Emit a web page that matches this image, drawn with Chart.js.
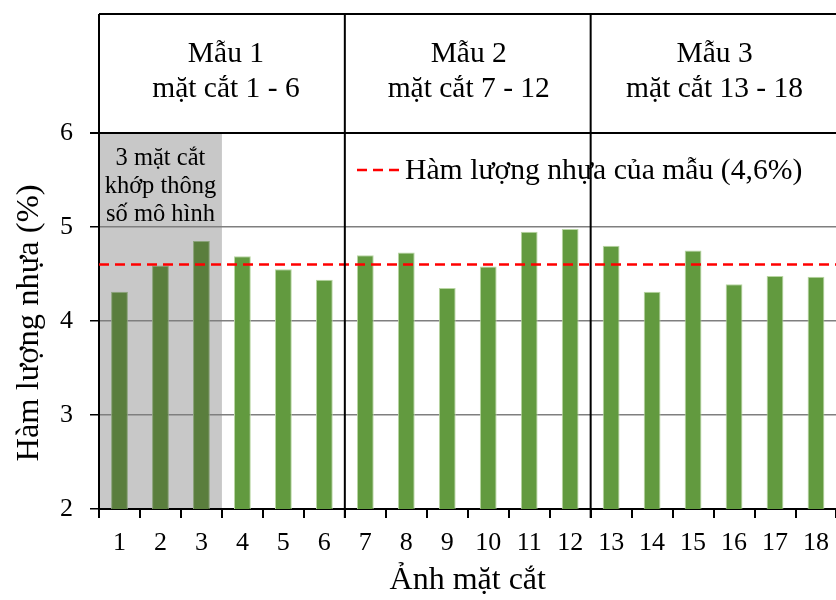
<!DOCTYPE html>
<html>
<head>
<meta charset="utf-8">
<script src="https://cdn.jsdelivr.net/npm/chart.js@4"></script>
<style>
  html, body { margin: 0; padding: 0; background: #fff; overflow: hidden; }
  #wrap { width: 836px; height: 600px; overflow: hidden; }
</style>
</head>
<body>
<div id="wrap"><canvas id="chart" width="839" height="600"></canvas></div>
<script>
// dữ liệu
const labels = ['1','2','3','4','5','6','7','8','9','10','11','12','13','14','15','16','17','18'];
const values = [4.31, 4.59, 4.85, 4.69, 4.55, 4.44, 4.70, 4.73, 4.35, 4.58, 4.95, 4.98, 4.80, 4.31, 4.75, 4.39, 4.48, 4.47];
const fitted = [0, 1, 2];              // 3 mặt cắt khớp thông số mô hình
const groups = ['Mẫu 1', 'Mẫu 2', 'Mẫu 3'];
const groupRanges = ['mặt cắt 1 - 6', 'mặt cắt 7 - 12', 'mặt cắt 13 - 18'];
const yTicks = [2, 3, 4, 5, 6];
const refValue = 4.6;
const refLabel = 'Hàm lượng nhựa của mẫu (4,6%)';
const boxLines = ['3 mặt cắt', 'khớp thông', 'số mô hình'];

const FONT = '"Liberation Serif", "Times New Roman", serif';
const GREEN = '#629a3f';
const GREEN_DARK = '#5a7e3d';

const overlay = {
  id: 'overlay',
  beforeDraw(chart) {
    const { ctx, chartArea: a, scales: { x } } = chart;
    // vùng xám cho 3 mặt cắt đầu
    const right = (x.getPixelForValue(fitted.length - 1) + x.getPixelForValue(fitted.length)) / 2;
    ctx.save();
    ctx.fillStyle = '#c8c8c8';
    ctx.fillRect(a.left, a.top, right - a.left, a.bottom - a.top);
    ctx.restore();
  },
  afterDatasetsDraw(chart) {
    const { ctx, chartArea: a, scales: { y } } = chart;
    const yy = y.getPixelForValue(refValue);
    ctx.save();
    ctx.strokeStyle = '#ff0000';
    ctx.lineWidth = 2.5;
    ctx.setLineDash([10, 6]);
    ctx.beginPath();
    ctx.moveTo(a.left, yy);
    ctx.lineTo(a.right, yy);
    ctx.stroke();
    ctx.restore();
  },
  afterDraw(chart) {
    const { ctx, chartArea: a, scales: { x } } = chart;
    const top = 14;
    const step = x.getPixelForValue(1) - x.getPixelForValue(0);
    ctx.save();

    // chữ trong vùng xám
    ctx.fillStyle = '#000';
    ctx.font = '24.5px ' + FONT;
    ctx.textAlign = 'center';
    ctx.textBaseline = 'middle';
    const boxMid = a.left + step * fitted.length / 2;
    boxLines.forEach((t, i) => ctx.fillText(t, boxMid, 159 + i * 28));

    // chú thích đường đỏ
    ctx.strokeStyle = '#ff0000';
    ctx.lineWidth = 2.5;
    ctx.setLineDash([10, 6]);
    ctx.beginPath();
    ctx.moveTo(357, 170);
    ctx.lineTo(402, 170);
    ctx.stroke();
    ctx.setLineDash([]);
    ctx.fillStyle = '#000';
    ctx.font = '29.7px ' + FONT;
    ctx.textAlign = 'left';
    ctx.fillText(refLabel, 405, 171);

    // khung tiêu đề trên
    ctx.strokeStyle = '#000';
    ctx.lineWidth = 2;
    ctx.beginPath();
    ctx.moveTo(a.left, top);
    ctx.lineTo(a.right, top);
    ctx.moveTo(a.left, top);
    ctx.lineTo(a.left, a.top);
    for (let g = 1; g < groups.length; g++) {
      const bx = a.left + step * g * 6;
      ctx.moveTo(bx, top);
      ctx.lineTo(bx, a.bottom + 9);
    }
    ctx.stroke();

    ctx.textAlign = 'center';
    ctx.font = '29.5px ' + FONT;
    groups.forEach((g, i) => {
      const cx = a.left + step * (i * 6 + 3) + (i === 0 ? 4 : 1);
      ctx.fillText(g, cx, 54);
      ctx.fillText(groupRanges[i], cx, 89);
    });

    // tiêu đề trục y
    ctx.translate(29, (a.top + a.bottom) / 2 + 2);
    ctx.rotate(-Math.PI / 2);
    ctx.font = '32.5px ' + FONT;
    ctx.fillText('Hàm lượng nhựa (%)', 0, 0);
    ctx.restore();
  }
};

new Chart(document.getElementById('chart'), {
  type: 'bar',
  data: {
    labels: labels,
    datasets: [{
      data: values,
      backgroundColor: values.map((v, i) => fitted.includes(i) ? GREEN_DARK : GREEN),
      borderColor: values.map((v, i) => fitted.includes(i) ? '#8aa279' : '#b9d6a3'),
      borderWidth: 1,
      borderSkipped: 'bottom',
      barPercentage: 0.41,
      categoryPercentage: 1
    }]
  },
  options: {
    responsive: false,
    animation: false,
    layout: { padding: { top: 133, right: 0, left: 0, bottom: 0 } },
    plugins: { legend: { display: false }, tooltip: { enabled: false } },
    scales: {
      x: {
        grid: { drawOnChartArea: false, tickLength: 9, tickColor: '#000', lineWidth: 2, offset: true },
        border: { color: '#000', width: 2 },
        ticks: { color: '#000', font: { family: FONT, size: 26 }, padding: 10, maxRotation: 0, autoSkip: false },
        title: { display: true, text: 'Ảnh mặt cắt', color: '#000', font: { family: FONT, size: 32 }, padding: { top: 0, bottom: 0 } },
        afterFit(scale) { scale.height = 600 - 509; }
      },
      y: {
        min: yTicks[0],
        max: yTicks[yTicks.length - 1],
        afterBuildTicks(scale) { scale.ticks = yTicks.map(v => ({ value: v })); },
        grid: {
          color: c => c.tick && c.tick.value === 6 ? '#000' : '#7f7f7f',
          lineWidth: c => c.tick && c.tick.value === 6 ? 2 : 1.5,
          tickColor: '#000',
          tickLength: 9
        },
        border: { color: '#000', width: 2 },
        ticks: { color: '#000', font: { family: FONT, size: 26 }, padding: 17 },
        afterFit(scale) { scale.width = 99; }
      }
    }
  },
  plugins: [overlay]
});
</script>
</body>
</html>
